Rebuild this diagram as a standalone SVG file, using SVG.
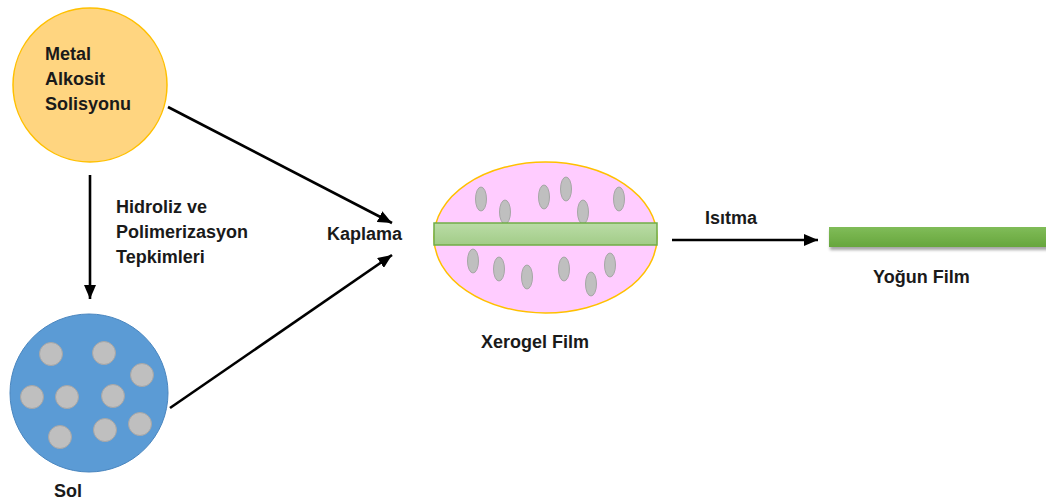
<svg xmlns="http://www.w3.org/2000/svg" width="1046" height="501" viewBox="0 0 1046 501">
  <style>
    .lbl { font-family: "Liberation Sans", Arial, sans-serif; font-weight: bold; font-size: 18px; fill: #1a1a1a; }
    .conn { stroke: #000; stroke-width: 2.6; fill: none; marker-end: url(#arrow); }
    .grain { fill: #BFBFBF; stroke: #A6A6A6; stroke-width: 1; }
  </style>
  <defs>
    <marker id="arrow" markerUnits="userSpaceOnUse" markerWidth="14" markerHeight="12" refX="14" refY="6" orient="auto">
      <path d="M0,0 L14,6 L0,12 z" fill="#000"/>
    </marker>
    <linearGradient id="layerGrad" x1="0" y1="0" x2="0" y2="1">
      <stop offset="0" stop-color="#BADCA6"/>
      <stop offset="1" stop-color="#A2CC88"/>
    </linearGradient>
    <linearGradient id="denseGrad" x1="0" y1="0" x2="0" y2="1">
      <stop offset="0" stop-color="#80BC58"/>
      <stop offset="1" stop-color="#67A63D"/>
    </linearGradient>
    <filter id="shadow" x="-5%" y="-50%" width="110%" height="200%">
      <feDropShadow dx="1" dy="3" stdDeviation="1.5" flood-color="#000" flood-opacity="0.35"/>
    </filter>
  </defs>

  <!-- connectors -->
  <g id="connectors">
    <line class="conn" x1="168" y1="107" x2="392" y2="223"/>
    <line class="conn" x1="170" y1="408" x2="392" y2="255"/>
    <line class="conn" x1="90" y1="175" x2="90" y2="299"/>
    <line class="conn" x1="672" y1="240" x2="818" y2="240"/>
  </g>

  <!-- starting solution -->
  <g id="metal-alkosit">
    <circle cx="90" cy="85" r="77" fill="#FFD580" stroke="#FFC000" stroke-width="1.5"/>
    <text class="lbl" x="45" y="60">Metal</text>
    <text class="lbl" x="45" y="85">Alkosit</text>
    <text class="lbl" x="45" y="110">Solisyonu</text>
  </g>

  <!-- process label -->
  <g id="hidroliz">
    <text class="lbl" x="116" y="213">Hidroliz ve</text>
    <text class="lbl" x="116" y="238">Polimerizasyon</text>
    <text class="lbl" x="116" y="263">Tepkimleri</text>
  </g>

  <!-- sol -->
  <g id="sol">
    <circle cx="89" cy="393" r="79" fill="#5B9BD5" stroke="#4A86BF" stroke-width="1"/>
    <circle class="grain" cx="51" cy="354" r="11.5"/>
    <circle class="grain" cx="104" cy="353" r="11.5"/>
    <circle class="grain" cx="142" cy="375" r="11.5"/>
    <circle class="grain" cx="32" cy="397" r="11.5"/>
    <circle class="grain" cx="67" cy="397" r="11.5"/>
    <circle class="grain" cx="113" cy="396" r="11.5"/>
    <circle class="grain" cx="60" cy="437" r="11.5"/>
    <circle class="grain" cx="105" cy="430" r="11.5"/>
    <circle class="grain" cx="140" cy="424" r="11.5"/>
    <text class="lbl" x="54" y="497">Sol</text>
  </g>

  <g id="kaplama">
    <text class="lbl" x="327" y="240">Kaplama</text>
  </g>

  <!-- xerogel film -->
  <g id="xerogel">
    <ellipse cx="545.5" cy="237.5" rx="111.5" ry="75.5" fill="#FFCCFF" stroke="#FFC000" stroke-width="1.5"/>
    <ellipse class="grain" cx="481" cy="199" rx="5.5" ry="12"/>
    <ellipse class="grain" cx="505" cy="212" rx="5.5" ry="12"/>
    <ellipse class="grain" cx="544" cy="197" rx="5.5" ry="12"/>
    <ellipse class="grain" cx="566" cy="189" rx="5.5" ry="12"/>
    <ellipse class="grain" cx="583" cy="212" rx="5.5" ry="12"/>
    <ellipse class="grain" cx="619" cy="199" rx="5.5" ry="12"/>
    <ellipse class="grain" cx="473" cy="261" rx="5.5" ry="12"/>
    <ellipse class="grain" cx="499" cy="269" rx="5.5" ry="12"/>
    <ellipse class="grain" cx="527" cy="277" rx="5.5" ry="12"/>
    <ellipse class="grain" cx="564" cy="269" rx="5.5" ry="12"/>
    <ellipse class="grain" cx="591" cy="284" rx="5.5" ry="12"/>
    <ellipse class="grain" cx="610" cy="265" rx="5.5" ry="12"/>
    <rect x="434" y="223" width="223" height="22" fill="url(#layerGrad)" stroke="#70AD47" stroke-width="1.5"/>
    <text class="lbl" x="481" y="348">Xerogel Film</text>
  </g>

  <g id="isitma">
    <text class="lbl" x="705" y="224">Isıtma</text>
  </g>

  <!-- dense film -->
  <g id="yogun-film">
    <rect x="829" y="227" width="220" height="20" fill="url(#denseGrad)" filter="url(#shadow)"/>
    <text class="lbl" x="873" y="283">Yoğun Film</text>
  </g>
</svg>
